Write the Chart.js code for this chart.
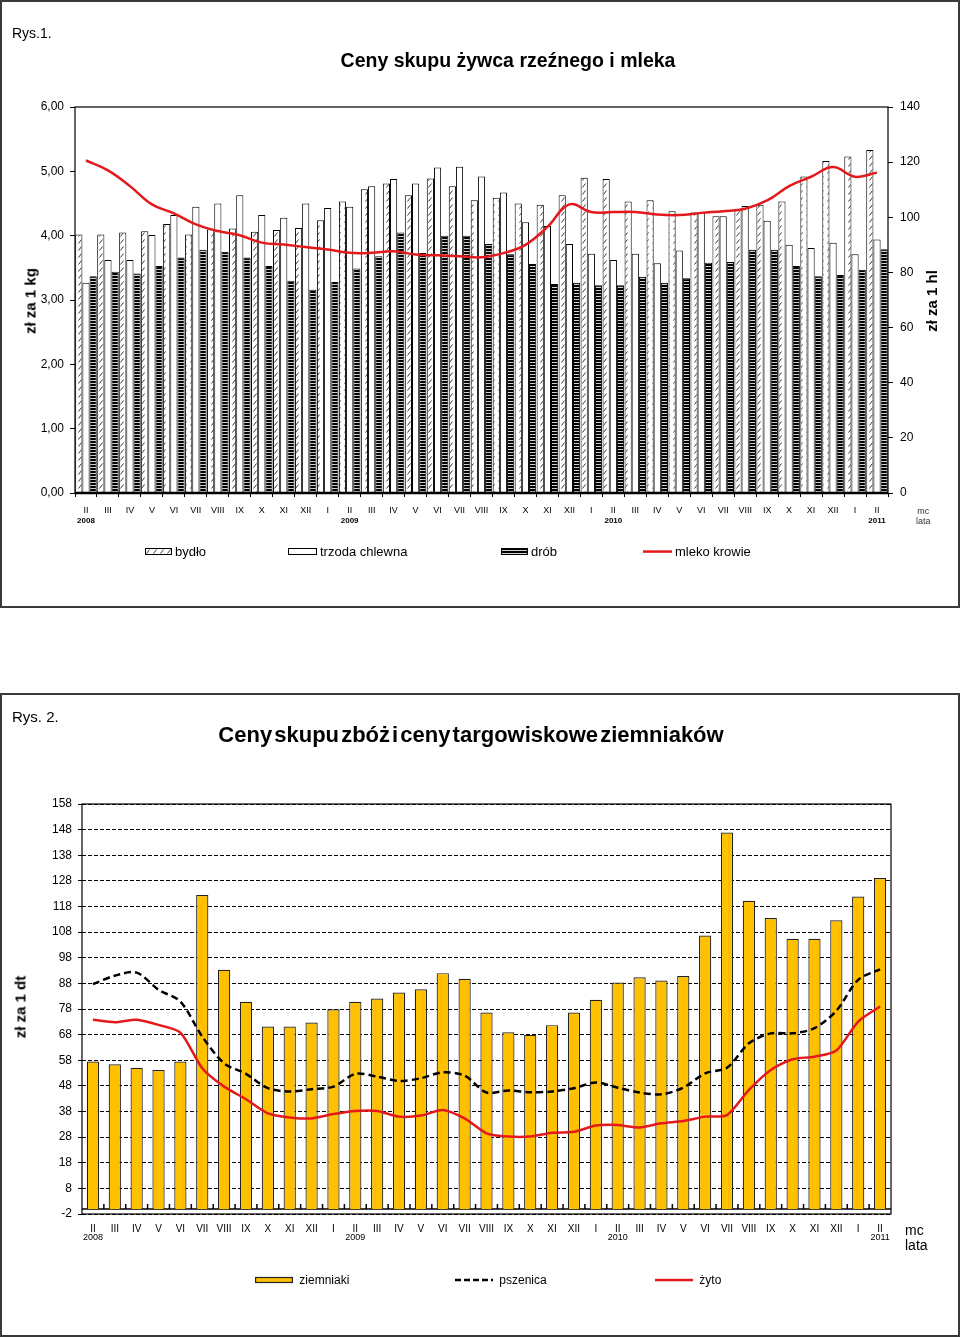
<!DOCTYPE html>
<html lang="pl">
<head>
<meta charset="utf-8">
<title>Rys. 1 i Rys. 2</title>
<script src="https://cdn.jsdelivr.net/npm/chart.js@4.4.1/dist/chart.umd.min.js"></script>
<style>
	body { margin: 0; background: #fff; font-family: Arial, "Liberation Sans", sans-serif; color: #000; }
	#page { position: relative; width: 960px; height: 1338px; }
	.panel { position: absolute; left: 0; width: 956px; border: 2px solid #3a3a3a; }
	.abs { position: absolute; white-space: nowrap; }
	.narrow { font-family: "Liberation Sans Narrow", "Arial Narrow", Arial, sans-serif; }
	.rot { transform: translate(-50%, -50%) rotate(-90deg); font-weight: bold; }
	canvas { position: absolute; left: 0; }
	.leg { position: absolute; display: flex; align-items: center; white-space: nowrap; }
	.leg canvas { position: static; margin-right: 3px; }
</style>
</head>
<body>
<div id="page">
	<div class="panel" style="top:0; height:604px;"></div>
	<div class="panel" style="top:693px; height:640px;"></div>

	<canvas id="chart1" width="960" height="608" style="top:0"></canvas>
	<canvas id="chart2" width="960" height="642" style="top:694px"></canvas>

	<!-- Rys. 1 -->
	<div class="abs narrow" style="left:12px; top:25px; font-size:14px;">Rys.1.</div>
	<div class="abs narrow" style="left:508px; top:49px; font-size:19.5px; font-weight:bold; transform:translateX(-50%);">Ceny skupu żywca rzeźnego i mleka</div>
	<div class="abs rot" style="left:30px; top:301px; font-size:15px;">zł za 1 kg</div>
	<div class="abs rot" style="left:931px; top:301px; font-size:15px;">zł za 1 hl</div>
	<div class="abs narrow" style="left:916px; top:506px; font-size:9px; color:#333; text-align:center; line-height:10px;">mc<br>lata</div>

	<div class="leg narrow" style="left:145px; top:544px; font-size:13px;"><canvas id="sw-bydlo" width="27" height="7"></canvas>bydło</div>
	<div class="leg narrow" style="left:288px; top:544px; font-size:13px;"><canvas id="sw-trzoda" width="29" height="7"></canvas>trzoda chlewna</div>
	<div class="leg narrow" style="left:501px; top:544px; font-size:13px;"><canvas id="sw-drob" width="27" height="7"></canvas>drób</div>
	<div class="leg narrow" style="left:643px; top:544px; font-size:13px;"><canvas id="sw-mleko" width="29" height="7"></canvas>mleko krowie</div>

	<!-- Rys. 2 -->
	<div class="abs narrow" style="left:12px; top:708px; font-size:15px;">Rys. 2.</div>
	<div class="abs narrow" style="left:471px; top:722px; font-size:22px; font-weight:bold; word-spacing:-4px; transform:translateX(-50%);">Ceny skupu zbóż i ceny targowiskowe ziemniaków</div>
	<div class="abs rot" style="left:20px; top:1007px; font-size:15px;">zł za 1 dt</div>
	<div class="abs narrow" style="left:905px; top:1223px; font-size:14px; line-height:15px;">mc<br>lata</div>

	<div class="leg narrow" style="left:255px; top:1273px; font-size:12px;"><canvas id="sw-ziem" width="38" height="8"></canvas>&nbsp;ziemniaki</div>
	<div class="leg narrow" style="left:455px; top:1273px; font-size:12px;"><canvas id="sw-psz" width="38" height="8"></canvas>&nbsp;pszenica</div>
	<div class="leg narrow" style="left:655px; top:1273px; font-size:12px;"><canvas id="sw-zyto" width="38" height="8"></canvas>&nbsp;żyto</div>
</div>

<script>
// ── dane ──────────────────────────────────────────────────────────────
const months = [
	"II", "III", "IV", "V", "VI", "VII", "VIII", "IX", "X", "XI", "XII",
	"I", "II", "III", "IV", "V", "VI", "VII", "VIII", "IX", "X", "XI", "XII",
	"I", "II", "III", "IV", "V", "VI", "VII", "VIII", "IX", "X", "XI", "XII",
	"I", "II",
];
const years     = ["2008", "2009", "2010", "2011"];
const yearIndex = [0, 12, 24, 36];

// Rys. 1 — zł za 1 kg
const bydlo = [
	4.02, 4.02, 4.05, 4.07, 4.18, 4.02, 4.10, 4.11, 4.06, 4.09, 4.12,
	4.24, 4.53, 4.72, 4.81, 4.63, 4.89, 4.77, 4.55, 4.59, 4.50, 4.48, 4.63,
	4.90, 4.88, 4.53, 4.55, 4.38, 4.36, 4.30, 4.42, 4.48, 4.53, 4.92, 5.16,
	5.23, 5.33,
];
const trzoda = [
	3.27, 3.62, 3.62, 4.01, 4.32, 4.45, 4.50, 4.63, 4.32, 4.28, 4.50,
	4.43, 4.45, 4.77, 4.88, 4.81, 5.06, 5.07, 4.92, 4.67, 4.21, 4.15, 3.87,
	3.72, 3.62, 3.72, 3.57, 3.77, 4.36, 4.30, 4.46, 4.23, 3.86, 3.81, 3.89,
	3.71, 3.94,
];
const drob = [
	3.37, 3.44, 3.41, 3.53, 3.66, 3.78, 3.75, 3.66, 3.53, 3.30, 3.16,
	3.28, 3.49, 3.68, 4.05, 3.73, 4.00, 4.00, 3.87, 3.71, 3.56, 3.25, 3.27,
	3.23, 3.23, 3.36, 3.27, 3.34, 3.58, 3.59, 3.78, 3.78, 3.53, 3.37, 3.39,
	3.47, 3.79,
];
// zł za 1 hl
const mleko = [
	120.6, 117.0, 111.3, 104.7, 101.4, 97.4, 95.0, 93.5, 90.8, 90.1, 89.2,
	88.3, 87.1, 87.1, 87.7, 86.5, 86.2, 85.9, 85.5, 87.0, 90.0, 96.5, 104.7,
	101.9, 101.9, 101.9, 101.0, 100.8, 101.6, 102.2, 103.1, 106.1, 111.3, 114.7, 118.2,
	114.7, 116.2,
];
const leftTicks  = { min: 0, max: 6, step: 1 };
const rightTicks = { min: 0, max: 140, step: 20 };

// Rys. 2 — zł za 1 dt
const ziemniaki = [
	57.5, 56.4, 55.1, 54.2, 57.5, 122.5, 93.3, 80.8, 71.2, 71.2, 72.7,
	77.9, 80.8, 82.1, 84.4, 85.7, 92.0, 89.8, 76.6, 68.9, 67.9, 71.7, 76.6,
	81.6, 88.3, 90.4, 89.1, 90.9, 106.7, 146.9, 120.2, 113.5, 105.4, 105.4, 112.6,
	121.9, 129.1,
];
const pszenica = [
	87.7, 91.0, 92.2, 85.5, 80.9, 67.2, 56.8, 52.7, 47.1, 45.8, 46.7,
	47.7, 52.7, 51.6, 49.9, 51.0, 53.3, 52.0, 45.4, 46.2, 45.5, 45.8, 47.1,
	49.3, 47.3, 45.4, 44.7, 47.3, 52.9, 55.1, 64.6, 68.5, 68.5, 70.5, 77.3,
	89.4, 93.5,
];
const zyto = [
	73.8, 72.8, 73.8, 71.8, 68.8, 54.9, 47.7, 42.8, 37.3, 35.7, 35.3,
	37.0, 38.2, 38.2, 36.0, 36.4, 38.6, 35.3, 29.5, 28.2, 28.2, 29.7, 30.1,
	32.5, 32.7, 31.8, 33.4, 34.3, 36.0, 36.6, 46.4, 54.2, 58.4, 59.4, 61.8,
	73.1, 79.0,
];
const dtTicks = { min: -2, max: 158, step: 10 };

// ── kolory / wzory ────────────────────────────────────────────────────
const RED  = "#e3191c";
const GOLD = "#ffc000";

function hatchPattern() {
	const c = document.createElement("canvas");
	c.width = 7; c.height = 7;
	const g = c.getContext("2d");
	g.fillStyle = "#fff";
	g.fillRect(0, 0, 7, 7);
	g.strokeStyle = "#222";
	g.lineWidth = 0.9;
	g.beginPath();
	g.moveTo(1.5, 5.5); g.lineTo(4.5, 1.5);
	g.stroke();
	return g.createPattern(c, "repeat");
}
function stripePattern() {
	const c = document.createElement("canvas");
	c.width = 4; c.height = 3;
	const g = c.getContext("2d");
	g.fillStyle = "#d0d0d0";
	g.fillRect(0, 0, 4, 3);
	g.fillStyle = "#000";
	g.fillRect(0, 0, 4, 2);
	return g.createPattern(c, "repeat");
}
const hatch  = hatchPattern();
const stripe = stripePattern();

const fmt2 = v => v.toFixed(2).replace(".", ",");
const narrow = "'Liberation Sans Narrow', 'Arial Narrow', Arial, sans-serif";

// ramka obszaru wykresu + etykiety lat
const frameAndYears = {
	id: "frameAndYears",
	afterDraw(chart, args, opts) {
		const { ctx, chartArea: a, scales } = chart;
		ctx.save();
		ctx.strokeStyle = "#000";
		ctx.lineWidth = 1.2;
		ctx.strokeRect(a.left, a.top, a.right - a.left, a.bottom - a.top);
		if (opts.baseWidth) {
			ctx.lineWidth = opts.baseWidth;
			ctx.beginPath();
			ctx.moveTo(a.left, a.bottom); ctx.lineTo(a.right, a.bottom);
			ctx.stroke();
		}
		ctx.fillStyle = "#000";
		ctx.font = opts.yearFont;
		ctx.textAlign = "center";
		ctx.textBaseline = "middle";
		yearIndex.forEach((idx, k) => {
			ctx.fillText(years[k], scales.x.getPixelForValue(idx), opts.yearY);
		});
		ctx.restore();
	},
};

// linia zera z kreskami między kategoriami (Rys. 2)
const zeroLine = {
	id: "zeroLine",
	beforeDatasetsDraw(chart) {
		const { ctx, chartArea: a, scales } = chart;
		const y0 = scales.y.getPixelForValue(0);
		ctx.save();
		ctx.strokeStyle = "#000";
		ctx.lineWidth = 1.5;
		ctx.beginPath();
		ctx.moveTo(a.left, y0); ctx.lineTo(a.right, y0);
		for (let i = 0; i < months.length - 1; i++) {
			const x = (scales.x.getPixelForValue(i) + scales.x.getPixelForValue(i + 1)) / 2;
			ctx.moveTo(x, y0 - 5); ctx.lineTo(x, y0);
		}
		ctx.stroke();
		ctx.restore();
	},
};

// ── Rys. 1 ────────────────────────────────────────────────────────────
new Chart(document.getElementById("chart1"), {
	type: "bar",
	data: {
		labels: months,
		datasets: [
			{ label: "bydło",          data: bydlo,  backgroundColor: hatch,  borderColor: "#000", borderWidth: 1, yAxisID: "y", order: 1 },
			{ label: "trzoda chlewna", data: trzoda, backgroundColor: "#fff", borderColor: "#000", borderWidth: 1, yAxisID: "y", order: 1 },
			{ label: "drób",           data: drob,   backgroundColor: stripe, borderColor: "#000", borderWidth: 1, yAxisID: "y", order: 1 },
			{
				type: "line", label: "mleko krowie", data: mleko, yAxisID: "y2", order: 0,
				borderColor: RED, borderWidth: 2.5, pointRadius: 0, tension: 0.4, fill: false,
			},
		],
	},
	options: {
		responsive: false,
		animation: false,
		layout: { padding: { top: 107, left: 0, right: 0, bottom: 0 } },
		datasets: { bar: { categoryPercentage: 0.98, barPercentage: 1 } },
		plugins: {
			legend:  { display: false },
			tooltip: { enabled: false },
			frameAndYears: { yearY: 521, yearFont: "bold 8px " + narrow, baseWidth: 2.5 },
		},
		scales: {
			x: {
				afterFit: s => { s.height = 115; },
				grid:   { drawOnChartArea: false, tickLength: 4, color: "#000" },
				border: { display: false },
				ticks:  { color: "#000", font: { family: narrow, size: 9 }, padding: 8, autoSkip: false, maxRotation: 0 },
			},
			y: {
				position: "left",
				min: leftTicks.min, max: leftTicks.max,
				afterFit: s => { s.width = 75; },
				grid:   { drawOnChartArea: false, tickLength: 5, color: "#000" },
				border: { display: false },
				ticks:  { stepSize: leftTicks.step, color: "#000", font: { family: "Arial", size: 12 }, padding: 6, callback: fmt2 },
			},
			y2: {
				position: "right",
				min: rightTicks.min, max: rightTicks.max,
				afterFit: s => { s.width = 72; },
				grid:   { drawOnChartArea: false, tickLength: 5, color: "#000" },
				border: { display: false },
				ticks:  { stepSize: rightTicks.step, color: "#000", font: { family: "Arial", size: 12 }, padding: 7 },
			},
		},
	},
	plugins: [frameAndYears],
});

// ── Rys. 2 ────────────────────────────────────────────────────────────
new Chart(document.getElementById("chart2"), {
	type: "bar",
	data: {
		labels: months,
		datasets: [
			{
				label: "ziemniaki", data: ziemniaki, order: 2,
				backgroundColor: GOLD, borderColor: "#222", borderWidth: 1.2,
				barPercentage: 0.56, categoryPercentage: 1,
			},
			{
				type: "line", label: "pszenica", data: pszenica, order: 1,
				borderColor: "#000", borderWidth: 2.5, borderDash: [7, 4], pointRadius: 0, tension: 0.3, fill: false,
			},
			{
				type: "line", label: "żyto", data: zyto, order: 0,
				borderColor: RED, borderWidth: 2.5, pointRadius: 0, tension: 0.25, fill: false,
			},
		],
	},
	options: {
		responsive: false,
		animation: false,
		layout: { padding: { top: 110, left: 0, right: 69, bottom: 0 } },
		plugins: {
			legend:  { display: false },
			tooltip: { enabled: false },
			frameAndYears: { yearY: 544, yearFont: "9px " + narrow, baseWidth: 0 },
		},
		scales: {
			x: {
				afterFit: s => { s.height = 122; },
				grid:   { display: false },
				border: { display: false },
				ticks:  { color: "#000", font: { family: narrow, size: 10 }, padding: 1, autoSkip: false, maxRotation: 0 },
			},
			y: {
				min: dtTicks.min, max: dtTicks.max,
				afterFit: s => { s.width = 82; },
				grid:   { color: "#000", lineWidth: 1, tickLength: 4 },
				border: { display: false, dash: [4, 2] },
				ticks:  { stepSize: dtTicks.step, color: "#000", font: { family: "Arial", size: 12 }, padding: 6 },
			},
		},
	},
	plugins: [frameAndYears, zeroLine],
});

// ── próbki legendy ────────────────────────────────────────────────────
function swatch(id, draw) {
	const c = document.getElementById(id);
	draw(c.getContext("2d"), c.width, c.height);
}
swatch("sw-bydlo",  (g, w, h) => { g.fillStyle = hatch;  g.fillRect(0, 0, w, h); g.strokeRect(0.5, 0.5, w - 1, h - 1); });
swatch("sw-trzoda", (g, w, h) => { g.fillStyle = "#fff"; g.fillRect(0, 0, w, h); g.strokeRect(0.5, 0.5, w - 1, h - 1); });
swatch("sw-drob",   (g, w, h) => { g.fillStyle = stripe; g.fillRect(0, 0, w, h); g.strokeRect(0.5, 0.5, w - 1, h - 1); });
swatch("sw-mleko",  (g, w, h) => { g.fillStyle = RED;    g.fillRect(0, h / 2 - 1.2, w, 2.5); });
swatch("sw-ziem",   (g, w, h) => { g.fillStyle = GOLD;   g.fillRect(0, 1, w, h - 2); g.strokeStyle = "#222"; g.lineWidth = 1.2; g.strokeRect(0.6, 1.5, w - 1.2, h - 3); });
swatch("sw-psz",    (g, w, h) => { g.strokeStyle = "#000"; g.lineWidth = 2.5; g.setLineDash([6, 3]); g.beginPath(); g.moveTo(0, h / 2); g.lineTo(w, h / 2); g.stroke(); });
swatch("sw-zyto",   (g, w, h) => { g.fillStyle = RED;    g.fillRect(0, h / 2 - 1.2, w, 2.5); });
</script>
</body>
</html>
